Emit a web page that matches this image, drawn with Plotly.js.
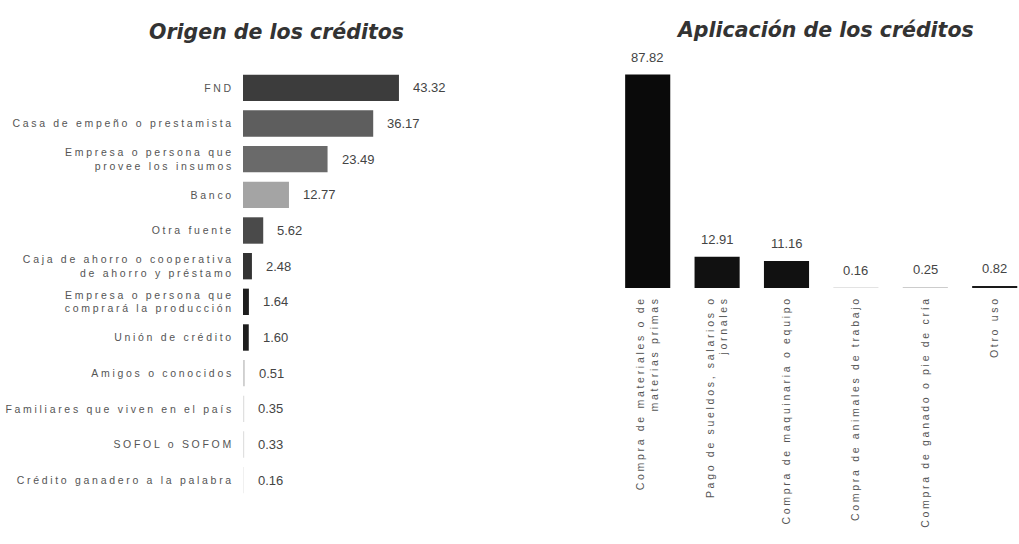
<!DOCTYPE html>
<html>
<head>
<meta charset="utf-8">
<script src="https://cdn.plot.ly/plotly-3.0.1.min.js"></script>
<style>
html,body{margin:0;padding:0;background:#fff;}
#chart{width:1019px;height:544px;}
#chart .ytick text, #chart .x2tick text, #chart .xtick text{letter-spacing:2.7px;}
</style>
</head>
<body>
<div id="chart"></div>
<script>
// Left chart: origin of credits
const origenLabels = [
  "FND",
  "Casa de empeño o prestamista",
  "Empresa o persona que<br>provee los insumos",
  "Banco",
  "Otra fuente",
  "Caja de ahorro o cooperativa<br>de ahorro y préstamo",
  "Empresa o persona que<br>comprará la producción",
  "Unión de crédito",
  "Amigos o conocidos",
  "Familiares que viven en el país",
  "SOFOL o SOFOM",
  "Crédito ganadero a la palabra"
];
const origenValues = [43.32, 36.17, 23.49, 12.77, 5.62, 2.48, 1.64, 1.60, 0.51, 0.35, 0.33, 0.16];
const origenText = ["43.32","36.17","23.49","12.77","5.62","2.48","1.64","1.60","0.51","0.35","0.33","0.16"];
const origenColors = ["#3c3c3c","#5e5e5e","#6a6a6a","#a4a4a4","#4a4a4a","#333333","#1e1e1e","#1e1e1e","#cfcfcf","#e0e0e0","#e0e0e0","#e6e6e6"];

// Right chart: application of credits
const aplicLabels = [
  "Compra de materiales o de<br>materias primas",
  "Pago de sueldos, salarios o<br>jornales",
  "Compra de maquinaria o equipo",
  "Compra de animales de trabajo",
  "Compra de ganado o pie de cría",
  "Otro uso"
];
const aplicValues = [87.82, 12.91, 11.16, 0.16, 0.25, 0.82];
const aplicText = ["87.82","12.91","11.16","0.16","0.25","0.82"];
const aplicColors = ["#0a0a0a","#111111","#111111","#c8c8c8","#9a9a9a","#1a1a1a"];

const W = 1019, H = 544;
const px = v => v / W;
const py = v => 1 - v / H;
const valFont = {family: "Liberation Sans, Arial, sans-serif", size: 13, color: "#444"};

const traces = [
  {
    type: "bar", orientation: "h",
    x: origenValues, y: origenLabels,
    marker: {color: origenColors},
    width: 0.74,
    xaxis: "x", yaxis: "y", hoverinfo: "x+y"
  },
  {
    type: "bar",
    x: aplicLabels, y: aplicValues,
    marker: {color: aplicColors},
    width: 0.65,
    xaxis: "x2", yaxis: "y2", hoverinfo: "x+y"
  }
];

const annotations = [
  {text: "<b><i>Origen de los créditos</i></b>", x: px(276), y: py(32), xref: "paper", yref: "paper",
   showarrow: false, font: {size: 20.5, color: "#333", family: "DejaVu Sans, sans-serif"}, xanchor: "center", yanchor: "middle"},
  {text: "<b><i>Aplicación de los créditos</i></b>", x: px(825), y: py(30), xref: "paper", yref: "paper",
   showarrow: false, font: {size: 20.5, color: "#333", family: "DejaVu Sans, sans-serif"}, xanchor: "center", yanchor: "middle"}
];
origenValues.forEach((v, i) => annotations.push({
  text: origenText[i], x: v, y: origenLabels[i], xref: "x", yref: "y",
  showarrow: false, xanchor: "left", yanchor: "middle", xshift: 12, font: valFont
}));
aplicValues.forEach((v, i) => annotations.push({
  text: aplicText[i], x: aplicLabels[i], y: v, xref: "x2", yref: "y2",
  showarrow: false, xanchor: "center", yanchor: "bottom", yshift: 8, font: valFont
}));

const layout = {
  width: W, height: H,
  margin: {l: 0, r: 0, t: 0, b: 0},
  paper_bgcolor: "#fff", plot_bgcolor: "rgba(0,0,0,0)",
  showlegend: false,
  font: {family: "Liberation Sans, Arial, sans-serif", color: "#444"},
  xaxis: {
    domain: [px(243), px(423)], range: [0, 50],
    showgrid: false, zeroline: false, showticklabels: false, showline: false, ticks: ""
  },
  yaxis: {
    domain: [py(498), py(70)], autorange: "reversed",
    showgrid: false, zeroline: false, showline: false, ticks: "outside", ticklen: 6, tickcolor: "rgba(0,0,0,0)",
    tickfont: {size: 10.5, color: "#555"}, type: "category"
  },
  xaxis2: {
    domain: [px(613), px(1019)], range: [-0.5, 5.35], anchor: "y2",
    showgrid: false, zeroline: false, showline: false, ticks: "outside", ticklen: 3, tickcolor: "rgba(0,0,0,0)",
    tickangle: -90, tickfont: {size: 10.5, color: "#555"}, type: "category"
  },
  yaxis2: {
    domain: [py(288), py(45)], range: [0, 100], anchor: "x2",
    showgrid: false, zeroline: false, showticklabels: false, showline: false, ticks: ""
  },
  annotations: annotations
};

Plotly.newPlot("chart", traces, layout, {displayModeBar: false, staticPlot: true});
</script>
</body>
</html>
